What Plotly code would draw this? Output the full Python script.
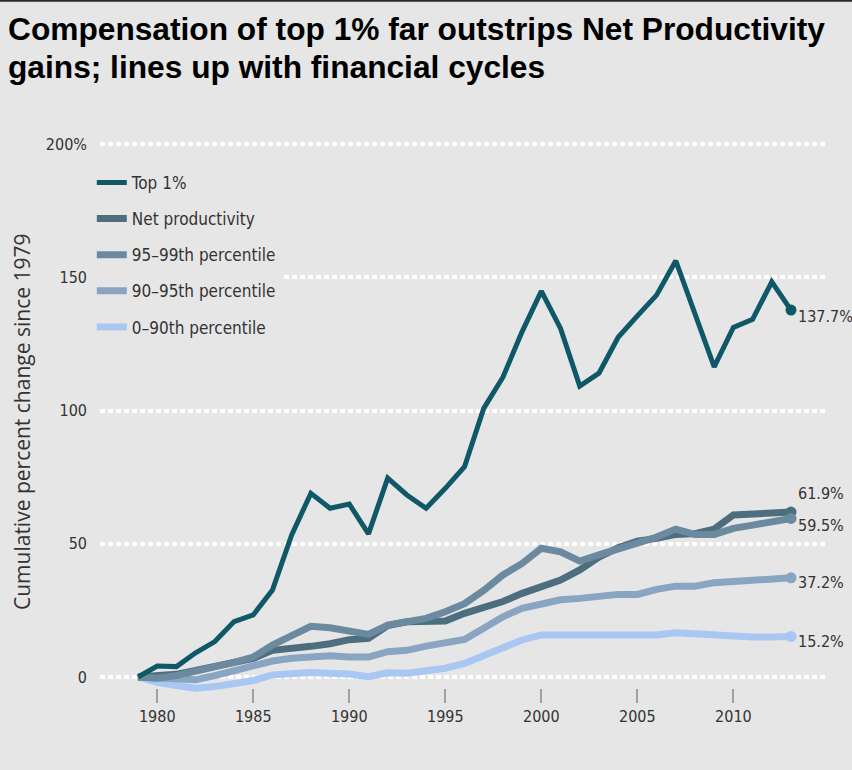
import plotly.graph_objects as go

# Cumulative percent change in compensation / productivity since 1979
years = list(range(1979, 2014))

top_1 = [0, 4.1, 3.9, 9.1, 13.3, 20.8, 23.3, 32.6, 53.3, 68.9, 63.3, 64.9,
         53.7, 74.6, 68.3, 63.3, 70.8, 78.9, 100.8, 112.5, 129.6, 144.8,
         130.8, 109.2, 114.0, 127.5, 135.5, 143.3, 156.2, 136.5, 116.4,
         131.2, 134.2, 148.3, 137.7]

net_productivity = [0, 0.5, 1.0, 2.5, 4.0, 5.5, 7.0, 10.0, 10.5, 11.5, 12.5,
                    14.0, 14.5, 19.3, 20.7, 21.0, 21.0, 23.9, 25.8, 28.3,
                    31.4, 34.0, 36.4, 40.2, 45.0, 48.5, 51.0, 52.0, 53.5,
                    53.8, 55.5, 60.8, 61.2, 61.6, 61.9]

pct_95_99 = [0, -0.5, 0.5, 2.0, 3.5, 5.5, 7.5, 12.0, 15.5, 19.0, 18.5, 17.0,
             16.0, 19.5, 21.0, 22.0, 24.5, 27.5, 32.5, 38.3, 42.6, 48.3,
             47.0, 43.5, 45.8, 48.0, 50.2, 52.5, 55.5, 53.5, 53.5, 55.8,
             57.0, 58.3, 59.5]

pct_90_95 = [0, -0.5, -1.0, -1.0, 0.5, 2.5, 4.0, 6.0, 7.0, 7.8, 8.0, 7.5,
             7.5, 9.5, 10.0, 11.6, 12.6, 14.1, 18.3, 22.6, 25.8, 27.6, 29.0,
             29.5, 30.4, 31.0, 31.0, 32.9, 34.1, 34.1, 35.4, 35.8, 36.4,
             36.7, 37.2]

pct_0_90 = [0, -2.0, -3.2, -4.2, -3.6, -2.6, -1.3, 0.8, 1.5, 1.7, 1.4, 1.1,
            0.1, 1.6, 1.4, 2.4, 3.3, 5.1, 7.9, 10.8, 13.9, 15.8, 15.8, 15.8,
            15.8, 15.8, 15.2, 15.8, 16.6, 16.1, 16.0, 15.3, 15.0, 15.0, 15.2]

series_names = ["Top 1%", "Net productivity", "95\u201399th percentile",
                "90\u201395th percentile", "0\u201390th percentile"]
series_values = [top_1, net_productivity, pct_95_99, pct_90_95, pct_0_90]

x_tick_vals = [1980, 1985, 1990, 1995, 2000, 2005, 2010]
y_tick_vals = [0, 50, 100, 150, 200]
y_tick_text = ["0", "50", "100", "150", "200%"]

title_lines = ["Compensation of top 1% far outstrips Net Productivity",
               "gains; lines up with financial cycles"]
y_title = "Cumulative percent change since 1979"

colors = ["#0f5867", "#4c6e7f", "#6b8a9f", "#89a5c2", "#a9c7f3"]
widths = [5, 7, 7, 7, 7]
# vertical offsets of the end-value labels (px)
label_shift = [-6, 19, -7, -5, -5]

BG = "#e6e6e6"
NARROW = "Liberation Sans Narrow, DejaVu Sans Condensed, Roboto Condensed, Arial Narrow, Roboto, sans-serif"
TXT = "#333333"

fig = go.Figure()

# draw lowest series first so the Top 1% line sits on top
draw_order = [4, 3, 1, 2, 0]
for i in draw_order:
    fig.add_trace(go.Scatter(
        x=years, y=series_values[i], mode="lines", name=series_names[i],
        line=dict(color=colors[i], width=widths[i]),
        legendgroup=f"g{i}", legendrank=i + 1, hoverinfo="skip",
    ))
for i in draw_order:
    fig.add_trace(go.Scatter(
        x=[years[-1]], y=[series_values[i][-1]], mode="markers",
        marker=dict(color=colors[i], size=11), showlegend=False,
        legendgroup=f"g{i}", hoverinfo="skip", cliponaxis=False,
    ))

# end-value labels
for i, vals in enumerate(series_values):
    fig.add_annotation(
        x=years[-1], y=vals[-1], text=f"{vals[-1]:.1f}%",
        xanchor="left", yanchor="middle", xshift=5, yshift=label_shift[i],
        showarrow=False, font=dict(family=NARROW, size=16, color=TXT),
    )

# two-line heading
for text, ypos in zip(title_lines, [1.1876, 1.1204]):
    fig.add_annotation(
        x=-0.1297, y=ypos, xref="paper", yref="paper", text=text,
        xanchor="left", yanchor="middle", showarrow=False,
        font=dict(family="Liberation Sans, Arial, sans-serif", size=31.7,
                  color="#000000", weight="bold"),
    )

# y-axis title
fig.add_annotation(
    x=-0.1076, y=0.492, xref="paper", yref="paper",
    text=y_title, textangle=-90,
    showarrow=False, xanchor="center", yanchor="middle",
    font=dict(family="Open Sans, DejaVu Sans, sans-serif", size=21, color=TXT),
)

# thin dark rule along the top edge
fig.add_shape(type="line", xref="paper", yref="paper",
              x0=-0.14, x1=1.04, y0=1.2375, y1=1.2375,
              line=dict(color="#2a2a2a", width=2))

fig.update_layout(
    width=852, height=770,
    margin=dict(l=100, r=27, t=135, b=70),
    paper_bgcolor=BG, plot_bgcolor=BG,
    xaxis=dict(
        range=[1977.02, 2014.77], tickvals=x_tick_vals,
        ticks="outside", ticklen=14, tickwidth=1.5, tickcolor="#a0a0a0",
        showgrid=False, zeroline=False, showline=False,
        anchor="free", position=0.0212,
        tickfont=dict(family=NARROW, size=16, color=TXT),
    ),
    yaxis=dict(
        range=[-8.63, 203.38], tickvals=y_tick_vals, ticktext=y_tick_text,
        showgrid=True, gridcolor="#ffffff", gridwidth=4, griddash="5px,3px",
        zeroline=False, showline=False, ticks="",
        ticklabelstandoff=12,
        tickfont=dict(family=NARROW, size=16, color=TXT),
    ),
    legend=dict(
        x=-0.0113, y=0.947, xanchor="left", yanchor="top",
        bgcolor=BG, tracegroupgap=11,
        font=dict(family=NARROW, size=17, color=TXT),
    ),
    showlegend=True,
)

fig.write_html("out.html")
